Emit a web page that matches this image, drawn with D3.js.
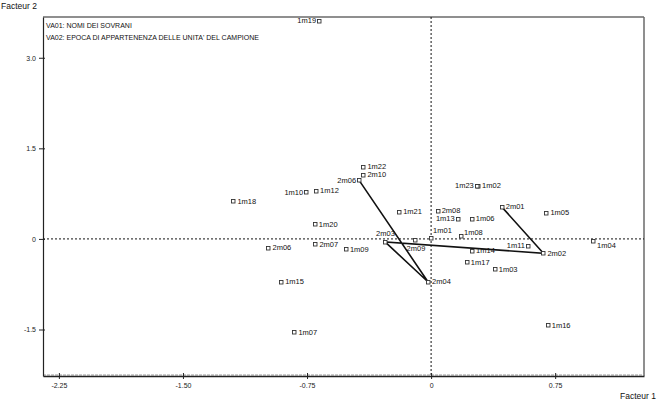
<!DOCTYPE html>
<html lang="en">
  <head>
    <meta charset="utf-8">
    <title>Facteur 1 / Facteur 2</title>
    <style>
      body { margin: 0; background: #fff; }
      svg { display: block; font-family: "Liberation Sans", Arial, sans-serif; }
      .pt-label { font-size: 7.5px; fill: #111; }
      .tick-label { font-size: 7px; fill: #222; }
      .axis-title { font-size: 8.5px; fill: #111; }
      .head { font-size: 7px; fill: #111; }
    </style>
    <script src="https://cdn.jsdelivr.net/npm/d3@7"></script>
  </head>
  <body>
    <script>

      // VA01 - nomi dei sovrani
      const va01Names = ['1m01','1m02','1m03','1m04','1m05','1m06','1m07','1m08','1m09','1m10','1m11','1m12',
                         '1m13','1m14','1m15','1m16','1m17','1m18','1m19','1m20','1m21','1m22','1m23'];
      const va01X = [0.000, 0.284, 0.385, 0.979, 0.697, 0.246, -0.826, 0.181, -0.515, -0.755, 0.586, -0.695,
                     0.161, 0.248, -0.906, 0.705, 0.216, -1.195, -0.677, -0.703, -0.193, -0.409, 0.276];
      const va01Y = [0.017, 0.879, -0.502, -0.033, 0.431, 0.332, -1.547, 0.045, -0.171, 0.769, -0.116, 0.796,
                     0.332, -0.199, -0.713, -1.431, -0.386, 0.620, 3.610, 0.239, 0.448, 1.194, 0.879];

      // VA02 - epoca di appartenenza
      const va02Names = ['2m01','2m02','2m03','2m04','2m06','2m06','2m07','2m08','2m09','2m10'];
      const va02X = [0.427, 0.679, -0.278, -0.018, -0.435, -0.983, -0.699, 0.040, -0.100, -0.409];
      const va02Y = [0.531, -0.237, -0.050, -0.713, 0.969, -0.143, -0.088, 0.464, -0.022, 1.061];

      // order of the VA02 points joined by the line
      const trajectory = [0, 1, 2, 3, 4];

      const xTicks = [-2.25, -1.50, -0.75, 0, 0.75];
      const xTickLabels = ['-2.25', '-1.50', '-0.75', '0', '0.75'];
      const yTicks = [3.0, 1.5, 0, -1.5];
      const yTickLabels = ['3.0', '1.5', '0', '-1.5'];

      const headLines = ['VA01: NOMI DEI SOVRANI', "VA02: EPOCA DI APPARTENENZA DELLE UNITA' DEL CAMPIONE"];

      // where each label sits around its marker (default: right)
      const labelPlace = {
        '1-1m01': 'ur', '1-1m08': 'ur2', '1-1m04': 'br',
        '1-1m10': 'l', '1-1m11': 'l', '1-1m13': 'l', '1-1m19': 'l', '1-1m23': 'l',
        '2-2': 'ul', '2-4': 'l', '2-8': 'b'
      };

      const width = 657, height = 403;
      const plot = { left: 43, right: 644, top: 17, bottom: 376 };

      const x = d3.scaleLinear().domain([-2.346, 1.287]).range([plot.left, plot.right]);
      const y = d3.scaleLinear().domain([-2.27, 3.675]).range([plot.bottom, plot.top]);

      const svg = d3.select('body').append('svg')
        .attr('width', width)
        .attr('height', height);

      // frame: grey top / right, dark left / bottom
      svg.append('line').attr('x1', plot.left).attr('x2', plot.right).attr('y1', plot.top).attr('y2', plot.top)
        .attr('stroke', '#6a6a6a').attr('stroke-width', 1.5);
      svg.append('line').attr('x1', plot.right).attr('x2', plot.right).attr('y1', plot.top).attr('y2', plot.bottom)
        .attr('stroke', '#6a6a6a').attr('stroke-width', 1.5);
      svg.append('line').attr('x1', plot.left).attr('x2', plot.right).attr('y1', plot.bottom - 1).attr('y2', plot.bottom - 1)
        .attr('stroke', '#9a9a9a').attr('stroke-width', 1).attr('stroke-dasharray', '3,1');

      // zero lines
      svg.append('line').attr('x1', plot.left).attr('x2', plot.right).attr('y1', y(0)).attr('y2', y(0))
        .attr('stroke', '#111').attr('stroke-width', 1).attr('stroke-dasharray', '2,2');
      svg.append('line').attr('x1', x(0)).attr('x2', x(0)).attr('y1', plot.top).attr('y2', plot.bottom)
        .attr('stroke', '#111').attr('stroke-width', 1).attr('stroke-dasharray', '2,2');

      // axes
      const xAxis = d3.axisBottom(x).tickValues(xTicks).tickSizeInner(3).tickSizeOuter(0)
        .tickFormat((d, i) => xTickLabels[i]);
      const gx = svg.append('g').attr('transform', `translate(0,${plot.bottom})`).call(xAxis);
      gx.select('.domain').attr('stroke', '#222').attr('stroke-width', 1.3);
      gx.selectAll('.tick line').attr('y1', -3).attr('stroke', '#222');
      gx.selectAll('.tick text').attr('class', 'tick-label').attr('y', 7).attr('font-family', null).attr('font-size', null);

      const yAxis = d3.axisLeft(y).tickValues(yTicks).tickSizeInner(4).tickSizeOuter(0)
        .tickFormat((d, i) => yTickLabels[i]);
      const gy = svg.append('g').attr('transform', `translate(${plot.left},0)`).call(yAxis);
      gy.select('.domain').attr('stroke', '#222').attr('stroke-width', 1.2);
      gy.selectAll('.tick line').attr('x2', 2).attr('x1', -4).attr('stroke', '#222');
      gy.selectAll('.tick text').attr('class', 'tick-label').attr('x', -7).attr('font-family', null).attr('font-size', null);

      // axis titles
      svg.append('text').attr('class', 'axis-title').attr('x', 1).attr('y', 9).text('Facteur 2');
      svg.append('text').attr('class', 'axis-title').attr('x', 656).attr('y', 399)
        .attr('text-anchor', 'end').text('Facteur 1');

      // header lines
      svg.selectAll('.head').data(headLines).enter().append('text')
        .attr('class', 'head')
        .attr('x', 46)
        .attr('y', (d, i) => 27.5 + i * 12)
        .text(d => d);

      // trajectory of VA02
      const line = d3.line().x(i => x(va02X[i])).y(i => y(va02Y[i]));
      svg.append('path').datum(trajectory)
        .attr('d', line)
        .attr('fill', 'none')
        .attr('stroke', '#111')
        .attr('stroke-width', 1.6);

      const pts = [];
      va01Names.forEach((n, i) => pts.push({ name: n, vx: va01X[i], vy: va01Y[i], key: '1-' + n }));
      va02Names.forEach((n, i) => pts.push({ name: n, vx: va02X[i], vy: va02Y[i], key: '2-' + i }));

      const offsets = {
        r:   { dx: 4,  dy: 2.5, anchor: 'start' },
        l:   { dx: -3, dy: 2.5, anchor: 'end' },
        ur:  { dx: 2,  dy: -5,  anchor: 'start' },
        ur2: { dx: 3,  dy: -1,  anchor: 'start' },
        ul:  { dx: -9, dy: -6,  anchor: 'start' },
        b:   { dx: -8, dy: 11,  anchor: 'start' },
        br:  { dx: 4,  dy: 7,   anchor: 'start' }
      };

      const g = svg.append('g');
      g.selectAll('rect').data(pts).enter().append('rect')
        .attr('x', d => Math.round(x(d.vx)) - 1.5)
        .attr('y', d => Math.round(y(d.vy)) - 1.5)
        .attr('width', 3.5)
        .attr('height', 3.5)
        .attr('fill', '#fff')
        .attr('stroke', '#333')
        .attr('stroke-width', 0.9);

      g.selectAll('text').data(pts).enter().append('text')
        .attr('class', 'pt-label')
        .each(function(d) {
          const o = offsets[labelPlace[d.key] || 'r'];
          d3.select(this)
            .attr('x', x(d.vx) + o.dx)
            .attr('y', y(d.vy) + o.dy)
            .attr('text-anchor', o.anchor);
        })
        .text(d => d.name);

    </script>
  </body>
</html>
